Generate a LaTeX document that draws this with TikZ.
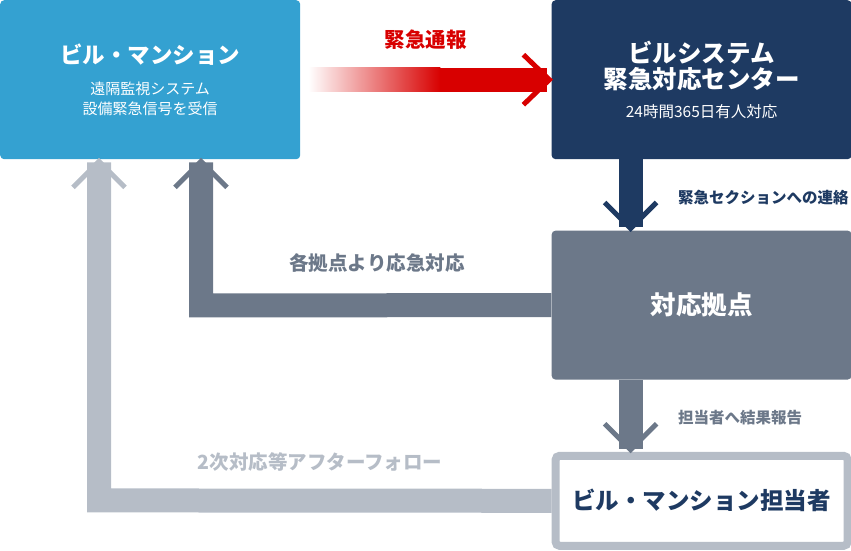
\documentclass[tikz,border=0pt]{standalone}
\usepackage{fontspec}
\setmainfont{Noto Sans CJK JP}
\usetikzlibrary{positioning,calc}

\definecolor{skyblue}{HTML}{34A1D1}
\definecolor{navy}{HTML}{1E3A62}
\definecolor{slate}{HTML}{6C7889}
\definecolor{pale}{HTML}{B6BDC7}
\definecolor{alarm}{HTML}{D80000}

\newcommand{\fs}[1]{\fontsize{#1}{#1}\selectfont}

\tikzset{
  box/.style={rectangle, rounded corners=4pt, minimum width=300pt, inner sep=0pt, align=center, text=white},
  bar/.style={line width=24pt},
  chev/.style={line width=5pt, line join=miter},
  lbl/.style={font=\bfseries\fs{17}}
}

\begin{document}
\begin{tikzpicture}[x=1pt, y=-1pt]
  \useasboundingbox (0,0) rectangle (851,550);

  % boxes
  \node[box, fill=skyblue, minimum height=159pt, anchor=north west] (mansion) at (0,0)
    {{\bfseries\fs{22.5}ビル・マンション}\\[16pt]
     {\fs{15}遠隔監視システム}\\[5pt]
     {\fs{15}設備緊急信号を受信}};
  \node[box, fill=navy, minimum height=159pt, right=251pt of mansion] (center)
    {{\bfseries\fs{24.5}ビルシステム}\\[2pt]
     {\bfseries\fs{24.5}緊急対応センター}\\[13pt]
     {\fs{15.5}24時間365日有人対応}};
  \node[box, fill=slate, minimum height=149pt, below=71pt of center] (base)
    {\bfseries\fs{25.5}対応拠点};
  \node[box, draw=pale, line width=8pt, fill=white, text=navy, minimum width=292pt,
        minimum height=90pt, below=72pt of base] (staff)
    {\bfseries\fs{23.5}ビル・マンション担当者};

  % emergency call
  \coordinate (callstart) at ($(mansion.east)+(8,0)$);
  \coordinate (callmid) at ($(mansion.east)+(140,0)$);
  \shade[left color=white, right color=alarm] ($(callstart)+(0,-12)$) rectangle ($(callmid)+(0,12)$);
  \draw[bar, alarm] (callmid) -- ($(center.west)+(-4,0)$);
  \draw[chev, alarm] ($(center.west)+(-28,-25)$) -- ($(center.west)+(-2,0)$) -- ($(center.west)+(-28,25)$);
  \node[lbl, text=alarm, font=\bfseries\fs{20.5}] (calllbl) at ($(mansion.east)!0.5!(center.west)+(0,-40)$) {緊急通報};

  % center -> base
  \draw[bar, navy] ($(center.south)+(-71,0)$) -- ($(base.north)+(-71,-3)$);
  \draw[chev, navy] ($(base.north)+(-97,-28)$) -- ($(base.north)+(-71,-2)$) -- ($(base.north)+(-45,-28)$);
  \node[lbl, text=navy, font=\bfseries\fs{15.5}, anchor=west] (contactlbl) at ($(center.south)+(-27,38)$) {緊急セクションへの連絡};

  % base -> staff
  \draw[bar, slate] ($(base.south)+(-71,0)$) -- ($(staff.north)+(-71,-3)$);
  \draw[chev, slate] ($(staff.north)+(-97,-28)$) -- ($(staff.north)+(-71,-2)$) -- ($(staff.north)+(-45,-28)$);
  \node[lbl, text=slate, font=\bfseries\fs{15.5}, anchor=west] (reportlbl) at ($(base.south)+(-27,38)$) {担当者へ結果報告};

  % base -> mansion
  \coordinate (urgentcorner) at ($(mansion.south west)+(201,305-159)$);
  \draw[bar, slate] (base.west) -- (urgentcorner) -- ($(mansion.south west)+(201,3)$);
  \draw[chev, slate] ($(mansion.south west)+(175,28)$) -- ($(mansion.south west)+(201,2)$) -- ($(mansion.south west)+(227,28)$);
  \node[lbl, text=slate, font=\bfseries\fs{19.5}] (urgentlbl) at ($(urgentcorner)+(176,-42)$) {各拠点より応急対応};

  % staff -> mansion
  \coordinate (followcorner) at ($(mansion.south west)+(99,500-159)$);
  \draw[bar, pale] (staff.west) -- (followcorner) -- ($(mansion.south west)+(99,3)$);
  \draw[chev, pale] ($(mansion.south west)+(73,28)$) -- ($(mansion.south west)+(99,2)$) -- ($(mansion.south west)+(125,28)$);
  \node[lbl, text=pale, font=\bfseries\fs{19.5}] (followlbl) at ($(followcorner)+(221,-38)$) {2次対応等アフターフォロー};
\end{tikzpicture}
\end{document}
